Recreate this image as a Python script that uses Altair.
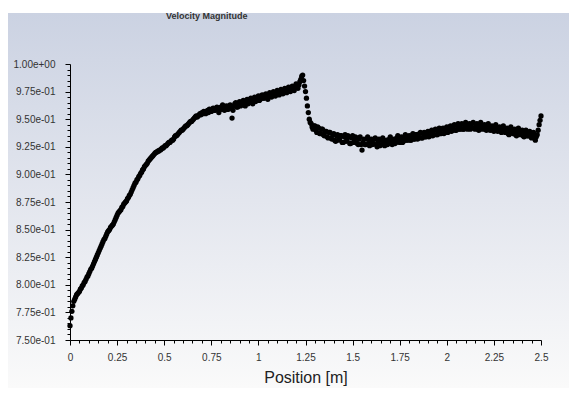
import altair as alt
import pandas as pd

title_text = ["Velocity Magnitude"]
x_title = "Position [m]"

# sample positions every 0.005 m
positions = [round(i * 0.005, 3) for i in range(501)]
velocity = [
    # 0.000 - 0.795
    0.763, 0.770, 0.776, 0.781, 0.785, 0.787, 0.789, 0.791, 0.792, 0.793,
    0.794, 0.796, 0.797, 0.799, 0.800, 0.802, 0.803, 0.805, 0.807, 0.808,
    0.810, 0.812, 0.814, 0.815, 0.817, 0.819, 0.821, 0.823, 0.825, 0.827,
    0.829, 0.831, 0.833, 0.835, 0.837, 0.839, 0.841, 0.842, 0.844, 0.846,
    0.848, 0.849, 0.850, 0.852, 0.853, 0.854, 0.855, 0.857, 0.859, 0.861,
    0.863, 0.865, 0.866, 0.867, 0.868, 0.870, 0.871, 0.873, 0.874, 0.875,
    0.876, 0.878, 0.879, 0.881, 0.882, 0.884, 0.886, 0.888, 0.890, 0.892,
    0.893, 0.895, 0.896, 0.898, 0.899, 0.901, 0.902, 0.904, 0.905, 0.907,
    0.908, 0.909, 0.910, 0.912, 0.913, 0.914, 0.915, 0.916, 0.917, 0.918,
    0.919, 0.920, 0.920, 0.921, 0.921, 0.922, 0.922, 0.923, 0.924, 0.924,
    0.925, 0.926, 0.926, 0.927, 0.928, 0.929, 0.929, 0.930, 0.931, 0.931,
    0.932, 0.934, 0.935, 0.935, 0.936, 0.937, 0.938, 0.939, 0.940, 0.940,
    0.941, 0.942, 0.943, 0.944, 0.944, 0.945, 0.946, 0.947, 0.948, 0.948,
    0.949, 0.950, 0.951, 0.952, 0.953, 0.952, 0.953, 0.954, 0.955, 0.954,
    0.956, 0.955, 0.957, 0.956, 0.955, 0.957, 0.958, 0.956, 0.959, 0.958,
    0.957, 0.959, 0.960, 0.958, 0.958, 0.960, 0.961, 0.959, 0.956, 0.960,
    # 0.800 - 1.295
    0.961, 0.959, 0.963, 0.960, 0.958, 0.961, 0.962, 0.959, 0.959, 0.962,
    0.963, 0.960, 0.951, 0.958, 0.962, 0.964, 0.965, 0.961, 0.961, 0.964,
    0.966, 0.962, 0.963, 0.966, 0.967, 0.963, 0.962, 0.965, 0.968, 0.964,
    0.965, 0.968, 0.969, 0.966, 0.964, 0.968, 0.970, 0.966, 0.967, 0.970,
    0.971, 0.967, 0.968, 0.971, 0.972, 0.969, 0.969, 0.972, 0.973, 0.970,
    0.968, 0.972, 0.974, 0.971, 0.970, 0.973, 0.975, 0.972, 0.971, 0.974,
    0.976, 0.973, 0.972, 0.975, 0.977, 0.974, 0.973, 0.976, 0.978, 0.975,
    0.974, 0.977, 0.979, 0.976, 0.975, 0.978, 0.980, 0.977, 0.976, 0.980,
    0.982, 0.979, 0.978, 0.981, 0.984, 0.986, 0.989, 0.990, 0.985, 0.980,
    0.975, 0.969, 0.962, 0.956, 0.950, 0.947, 0.946, 0.943, 0.941, 0.944,
    # 1.300 - 1.795
    0.944, 0.940, 0.938, 0.943, 0.942, 0.937, 0.937, 0.941, 0.941, 0.936,
    0.935, 0.939, 0.939, 0.934, 0.933, 0.938, 0.938, 0.933, 0.932, 0.936,
    0.937, 0.931, 0.930, 0.935, 0.936, 0.931, 0.932, 0.935, 0.935, 0.929,
    0.929, 0.934, 0.936, 0.930, 0.931, 0.935, 0.934, 0.928, 0.928, 0.933,
    0.935, 0.929, 0.930, 0.934, 0.933, 0.928, 0.927, 0.932, 0.934, 0.927,
    0.922, 0.929, 0.932, 0.927, 0.927, 0.932, 0.934, 0.928, 0.926, 0.931,
    0.932, 0.927, 0.928, 0.932, 0.933, 0.927, 0.925, 0.930, 0.932, 0.926,
    0.927, 0.931, 0.933, 0.928, 0.926, 0.930, 0.931, 0.927, 0.928, 0.932,
    0.934, 0.929, 0.927, 0.931, 0.932, 0.928, 0.929, 0.933, 0.935, 0.930,
    0.929, 0.933, 0.934, 0.929, 0.930, 0.934, 0.936, 0.931, 0.931, 0.934,
    # 1.800 - 2.500
    0.935, 0.931, 0.931, 0.935, 0.937, 0.932, 0.932, 0.936, 0.936, 0.932,
    0.933, 0.937, 0.938, 0.933, 0.933, 0.937, 0.938, 0.934, 0.934, 0.938,
    0.939, 0.934, 0.935, 0.939, 0.940, 0.935, 0.936, 0.940, 0.941, 0.936,
    0.936, 0.940, 0.942, 0.937, 0.937, 0.941, 0.942, 0.937, 0.938, 0.942,
    0.943, 0.938, 0.939, 0.943, 0.944, 0.939, 0.940, 0.944, 0.945, 0.940,
    0.940, 0.944, 0.946, 0.941, 0.941, 0.945, 0.946, 0.941, 0.941, 0.945,
    0.947, 0.942, 0.941, 0.945, 0.946, 0.941, 0.942, 0.946, 0.947, 0.942,
    0.941, 0.945, 0.946, 0.941, 0.940, 0.944, 0.947, 0.942, 0.941, 0.944,
    0.945, 0.941, 0.940, 0.944, 0.946, 0.941, 0.940, 0.943, 0.944, 0.940,
    0.939, 0.943, 0.945, 0.940, 0.939, 0.942, 0.943, 0.939, 0.938, 0.942,
    0.944, 0.939, 0.938, 0.941, 0.942, 0.937, 0.936, 0.940, 0.943, 0.938,
    0.937, 0.940, 0.941, 0.936, 0.935, 0.939, 0.942, 0.937, 0.936, 0.939,
    0.940, 0.935, 0.934, 0.938, 0.940, 0.935, 0.935, 0.938, 0.939, 0.934,
    0.933, 0.936, 0.938, 0.933, 0.931, 0.934, 0.936, 0.940, 0.945, 0.949,
    0.953,
]

x_tick_values = [round(i * 0.05, 2) for i in range(51)]
y_tick_values = [round(0.75 + i * 0.005, 3) for i in range(51)]

df = pd.DataFrame({"position": positions, "velocity": velocity})

FONT = "Liberation Sans"

bg = alt.Chart(pd.DataFrame({"k": [0]})).mark_rect(
    fill=alt.Gradient(
        gradient="linear",
        stops=[
            alt.GradientStop(color="#cbd2e2", offset=0),
            alt.GradientStop(color="#e3e6ee", offset=0.5),
            alt.GradientStop(color="#fafafa", offset=1),
        ],
        x1=0, x2=0, y1=0, y2=1,
    )
).encode(x=alt.value(-62), x2=alt.value(499), y=alt.value(-51), y2=alt.value(324))

x_axis = alt.Axis(
    values=x_tick_values,
    labelExpr="(round(datum.value*100) % 25 == 0) ? format(datum.value, '~g') : ''",
    tickSize={"condition": {"test": "round(datum.value*100) % 25 == 0", "value": 5}, "value": 3},
    grid=False,
    domainColor="black",
    tickColor="black",
    labelFont=FONT,
    labelFontSize=10,
    labelColor="#333333",
    labelPadding=7,
    labelFlush=False,
    title=x_title,
    titleFont=FONT,
    titleFontSize=16,
    titleFontWeight="normal",
    titleColor="#222222",
    titlePadding=7,
    zindex=1,
)

y_axis = alt.Axis(
    values=y_tick_values,
    labelExpr="(round(datum.value*1000) % 25 == 0) ? replace(replace(format(datum.value, '.2e'), 'e-', 'e-0'), 'e+', 'e+0') : ''",
    tickSize={"condition": {"test": "round(datum.value*1000) % 25 == 0", "value": 5}, "value": 3},
    grid=False,
    domainColor="black",
    tickColor="black",
    labelFont=FONT,
    labelFontSize=10,
    labelColor="#333333",
    labelPadding=10,
    labelFlush=False,
    title="",
    zindex=1,
)

pts = alt.Chart(df).mark_circle(size=28, color="black", opacity=1).encode(
    x=alt.X("position:Q", scale=alt.Scale(domain=[0, 2.5], nice=False, zero=False), axis=x_axis),
    y=alt.Y("velocity:Q", scale=alt.Scale(domain=[0.75, 1.0], nice=False, zero=False), axis=y_axis),
)

ttl = alt.Chart(pd.DataFrame({"t": title_text})).mark_text(
    align="left", baseline="middle", font=FONT, fontSize=9, fontWeight="bold", color="#333333"
).encode(text="t:N", x=alt.value(96), y=alt.value(-48))

chart = alt.layer(bg, pts, ttl).properties(
    width=471,
    height=276,
    padding={"left": 62, "top": 56, "right": 28, "bottom": 48},
    autosize=alt.AutoSizeParams(type="none"),
).configure_view(stroke="transparent")

chart.save("out.html", embed_options={"renderer": "svg", "actions": False})
